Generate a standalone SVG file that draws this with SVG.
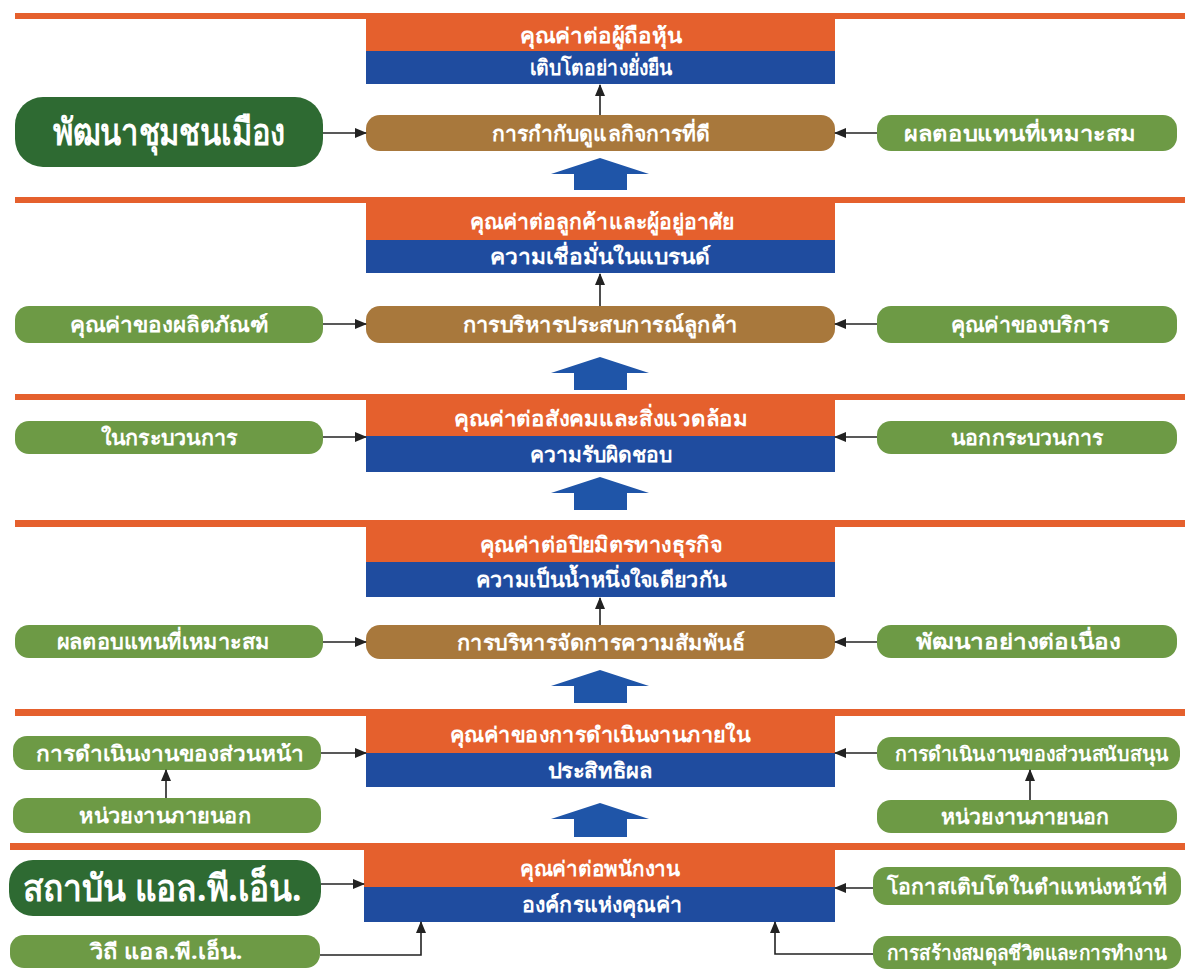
<svg xmlns="http://www.w3.org/2000/svg" width="1185" height="970" viewBox="0 0 1185 970">
<defs>
<style>
text{font-family:"Noto Sans","DejaVu Sans",sans-serif;font-weight:bold;fill:#fff;text-anchor:middle;font-size:21px}
.big{font-size:37px}
.line{fill:#E5602D}
.or{fill:#E5602D}
.bl{fill:#1F4C9F}
.br{fill:#A8783C}
.gr{fill:#6D9A45}
.dg{fill:#2E6A32}
.ba{fill:#1F55A8}
.con{stroke:#222;stroke-width:1.6;fill:none}
</style>
<marker id="ah" markerUnits="userSpaceOnUse" markerWidth="12" markerHeight="10" refX="11" refY="5" orient="auto">
<path d="M0,0 L12,5 L0,10 Z" fill="#222"/>
</marker>
</defs>
<rect width="1185" height="970" fill="#fff"/>

<g id="lines">
<rect class="line" x="15" y="13" width="1170" height="6"/>
<rect class="line" x="15" y="197" width="1170" height="6"/>
<rect class="line" x="15" y="394" width="1170" height="6"/>
<rect class="line" x="15" y="520" width="1170" height="7"/>
<rect class="line" x="15" y="709" width="1170" height="7"/>
<rect class="line" x="10" y="843" width="1175" height="7"/>
</g>

<g id="bigarrows">
<polygon class="ba" points="600,158 649,174 627,174 627,190 574,190 574,174 551,174"/>
<polygon class="ba" points="600,357 649,373 627,373 627,390 574,390 574,373 551,373"/>
<polygon class="ba" points="600,477 649,493 627,493 627,510 574,510 574,493 551,493"/>
<polygon class="ba" points="600,670 649,686 627,686 627,703 574,703 574,686 551,686"/>
<polygon class="ba" points="600,803 649,819 627,819 627,837 574,837 574,819 551,819"/>
</g>

<!-- Section 1 -->
<g id="s1-value">
<rect class="or" x="366" y="19" width="469" height="32"/>
<rect class="bl" x="366" y="51" width="469" height="33"/>
<text x="601" y="43" textLength="162" lengthAdjust="spacingAndGlyphs">คุณค่าต่อผู้ถือหุ้น</text>
<text x="601" y="75" textLength="142" lengthAdjust="spacingAndGlyphs">เติบโตอย่างยั่งยืน</text>
</g>
<g id="s1-core">
<rect class="br" x="366" y="115" width="469" height="36" rx="14"/>
<text x="601" y="141" textLength="218" lengthAdjust="spacingAndGlyphs">การกำกับดูแลกิจการที่ดี</text>
</g>
<g id="s1-left">
<rect class="dg" x="15" y="97" width="308" height="70" rx="28"/>
<text class="big" x="169" y="145" textLength="233" lengthAdjust="spacingAndGlyphs">พัฒนาชุมชนเมือง</text>
</g>
<g id="s1-right">
<rect class="gr" x="877" y="115" width="300" height="36" rx="14"/>
<text x="1020" y="141" textLength="232" lengthAdjust="spacingAndGlyphs">ผลตอบแทนที่เหมาะสม</text>
</g>

<!-- Section 2 -->
<g id="s2-value">
<rect class="or" x="366" y="203" width="469" height="37"/>
<rect class="bl" x="366" y="240" width="469" height="33"/>
<text x="602" y="229" textLength="265" lengthAdjust="spacingAndGlyphs">คุณค่าต่อลูกค้าและผู้อยู่อาศัย</text>
<text x="600" y="264" textLength="221" lengthAdjust="spacingAndGlyphs">ความเชื่อมั่นในแบรนด์</text>
</g>
<g id="s2-core">
<rect class="br" x="366" y="306" width="469" height="37" rx="14"/>
<text x="600" y="332" textLength="275" lengthAdjust="spacingAndGlyphs">การบริหารประสบการณ์ลูกค้า</text>
</g>
<g id="s2-left">
<rect class="gr" x="15" y="306" width="308" height="37" rx="14"/>
<text x="169" y="332" textLength="198" lengthAdjust="spacingAndGlyphs">คุณค่าของผลิตภัณฑ์</text>
</g>
<g id="s2-right">
<rect class="gr" x="877" y="306" width="300" height="37" rx="14"/>
<text x="1030" y="332" textLength="158" lengthAdjust="spacingAndGlyphs">คุณค่าของบริการ</text>
</g>

<!-- Section 3 -->
<g id="s3-value">
<rect class="or" x="366" y="400" width="469" height="36"/>
<rect class="bl" x="366" y="436" width="469" height="36"/>
<text x="601" y="426" textLength="294" lengthAdjust="spacingAndGlyphs">คุณค่าต่อสังคมและสิ่งแวดล้อม</text>
<text x="601" y="462" textLength="142" lengthAdjust="spacingAndGlyphs">ความรับผิดชอบ</text>
</g>
<g id="s3-left">
<rect class="gr" x="15" y="421" width="308" height="33" rx="14"/>
<text x="169" y="445" textLength="137" lengthAdjust="spacingAndGlyphs">ในกระบวนการ</text>
</g>
<g id="s3-right">
<rect class="gr" x="877" y="421" width="300" height="33" rx="14"/>
<text x="1027" y="445" textLength="152" lengthAdjust="spacingAndGlyphs">นอกกระบวนการ</text>
</g>

<!-- Section 4 -->
<g id="s4-value">
<rect class="or" x="366" y="527" width="469" height="35"/>
<rect class="bl" x="366" y="562" width="469" height="35"/>
<text x="601" y="552" textLength="242" lengthAdjust="spacingAndGlyphs">คุณค่าต่อปิยมิตรทางธุรกิจ</text>
<text x="601" y="587" textLength="251" lengthAdjust="spacingAndGlyphs">ความเป็นน้ำหนึ่งใจเดียวกัน</text>
</g>
<g id="s4-core">
<rect class="br" x="366" y="625" width="469" height="34" rx="14"/>
<text x="601" y="650" textLength="288" lengthAdjust="spacingAndGlyphs">การบริหารจัดการความสัมพันธ์</text>
</g>
<g id="s4-left">
<rect class="gr" x="15" y="625" width="308" height="33" rx="14"/>
<text x="163" y="649" textLength="213" lengthAdjust="spacingAndGlyphs">ผลตอบแทนที่เหมาะสม</text>
</g>
<g id="s4-right">
<rect class="gr" x="877" y="625" width="300" height="33" rx="14"/>
<text x="1018" y="649" textLength="205" lengthAdjust="spacingAndGlyphs">พัฒนาอย่างต่อเนื่อง</text>
</g>

<!-- Section 5 -->
<g id="s5-value">
<rect class="or" x="366" y="716" width="469" height="37"/>
<rect class="bl" x="366" y="753" width="469" height="34"/>
<text x="600" y="742" textLength="300" lengthAdjust="spacingAndGlyphs">คุณค่าของการดำเนินงานภายใน</text>
<text x="600" y="778" textLength="105" lengthAdjust="spacingAndGlyphs">ประสิทธิผล</text>
</g>
<g id="s5-left-top">
<rect class="gr" x="13" y="736" width="308" height="34" rx="14"/>
<text x="170" y="761" textLength="268" lengthAdjust="spacingAndGlyphs">การดำเนินงานของส่วนหน้า</text>
</g>
<g id="s5-left-bottom">
<rect class="gr" x="13" y="798" width="308" height="35" rx="14"/>
<text x="165" y="823" textLength="172" lengthAdjust="spacingAndGlyphs">หน่วยงานภายนอก</text>
</g>
<g id="s5-right-top">
<rect class="gr" x="877" y="737" width="303" height="33" rx="14"/>
<text x="1032" y="761" style="font-size:20px" textLength="274" lengthAdjust="spacingAndGlyphs">การดำเนินงานของส่วนสนับสนุน</text>
</g>
<g id="s5-right-bottom">
<rect class="gr" x="877" y="800" width="300" height="33" rx="14"/>
<text x="1025" y="824" textLength="168" lengthAdjust="spacingAndGlyphs">หน่วยงานภายนอก</text>
</g>

<!-- Section 6 -->
<g id="s6-value">
<rect class="or" x="364" y="850" width="471" height="37"/>
<rect class="bl" x="364" y="887" width="471" height="35"/>
<text x="600" y="876" textLength="160" lengthAdjust="spacingAndGlyphs">คุณค่าต่อพนักงาน</text>
<text x="602" y="912" textLength="160" lengthAdjust="spacingAndGlyphs">องค์กรแห่งคุณค่า</text>
</g>
<g id="s6-left-top">
<rect class="dg" x="9" y="860" width="312" height="56" rx="24"/>
<text class="big" x="162" y="901" textLength="279" lengthAdjust="spacingAndGlyphs">สถาบัน แอล.พี.เอ็น.</text>
</g>
<g id="s6-left-bottom">
<rect class="gr" x="10" y="935" width="310" height="33" rx="14"/>
<text x="166" y="959" textLength="153" lengthAdjust="spacingAndGlyphs">วิถี แอล.พี.เอ็น.</text>
</g>
<g id="s6-right-top">
<rect class="gr" x="873" y="867" width="308" height="38" rx="14"/>
<text x="1027" y="894" style="font-size:21px" textLength="280" lengthAdjust="spacingAndGlyphs">โอกาสเติบโตในตำแหน่งหน้าที่</text>
</g>
<g id="s6-right-bottom">
<rect class="gr" x="873" y="936" width="308" height="33" rx="14"/>
<text x="1027" y="960" style="font-size:20px" textLength="280" lengthAdjust="spacingAndGlyphs">การสร้างสมดุลชีวิตและการทำงาน</text>
</g>

<g id="connectors">
<path class="con" d="M600,115 V85" marker-end="url(#ah)"/>
<path class="con" d="M600,306 V274" marker-end="url(#ah)"/>
<path class="con" d="M600,625 V598" marker-end="url(#ah)"/>
<path class="con" d="M323,133 H366" marker-end="url(#ah)"/>
<path class="con" d="M877,133 H835" marker-end="url(#ah)"/>
<path class="con" d="M323,324 H366" marker-end="url(#ah)"/>
<path class="con" d="M877,324 H835" marker-end="url(#ah)"/>
<path class="con" d="M323,437 H366" marker-end="url(#ah)"/>
<path class="con" d="M877,437 H835" marker-end="url(#ah)"/>
<path class="con" d="M323,642 H366" marker-end="url(#ah)"/>
<path class="con" d="M877,642 H835" marker-end="url(#ah)"/>
<path class="con" d="M321,753 H366" marker-end="url(#ah)"/>
<path class="con" d="M877,753 H835" marker-end="url(#ah)"/>
<path class="con" d="M166,798 V770" marker-end="url(#ah)"/>
<path class="con" d="M1030,800 V770" marker-end="url(#ah)"/>
<path class="con" d="M321,884 H364" marker-end="url(#ah)"/>
<path class="con" d="M873,888 H835" marker-end="url(#ah)"/>
<path class="con" d="M320,955 H421 V922" marker-end="url(#ah)"/>
<path class="con" d="M873,954 H775 V922" marker-end="url(#ah)"/>
</g>
</svg>
